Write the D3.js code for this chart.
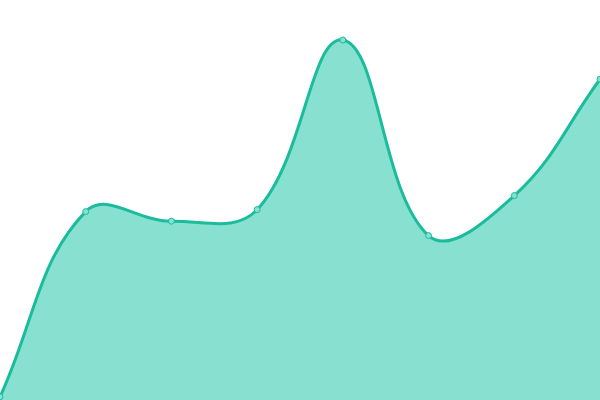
<!DOCTYPE html>
<html>
<head>
<meta charset="utf-8">
<script src="https://cdn.jsdelivr.net/npm/d3@7"></script>
<style>
html,body{margin:0;padding:0;background:#fff;}
svg{display:block;}
</style>
</head>
<body>
<svg id="chart" width="600" height="400"></svg>
<script>
const categories = [0, 1, 2, 3, 4, 5, 6, 7];
const values = [0.8, 47.1, 44.7, 47.6, 90.0, 41.1, 51.1, 80.2];

const width = 600, height = 400;
const svg = d3.select("#chart");
const x = d3.scaleLinear().domain([0, categories.length - 1]).range([0, width]);
const y = d3.scaleLinear().domain([0, 100]).range([height, 0]);

// Spline with tension 0.4 (distance-weighted control points), as a D3 curve factory
function TensionCurve(context) { this._context = context; }
TensionCurve.prototype = {
  areaStart() { this._line = 0; },
  areaEnd() { this._line = NaN; },
  lineStart() { this._pts = []; },
  point(px, py) { this._pts.push([+px, +py]); },
  lineEnd() {
    const p = this._pts, n = p.length, c = this._context, t = 0.4;
    if (n) {
      if (this._line) c.lineTo(p[0][0], p[0][1]); else c.moveTo(p[0][0], p[0][1]);
    }
    if (n === 2) c.lineTo(p[1][0], p[1][1]);
    else if (n > 2) {
      const cps = p.map((cur, i) => {
        const prev = p[Math.max(0, i - 1)], next = p[Math.min(n - 1, i + 1)];
        const d01 = Math.hypot(cur[0] - prev[0], cur[1] - prev[1]);
        const d12 = Math.hypot(next[0] - cur[0], next[1] - cur[1]);
        let s01 = d01 / (d01 + d12), s12 = d12 / (d01 + d12);
        if (isNaN(s01)) s01 = 0; if (isNaN(s12)) s12 = 0;
        const fa = t * s01, fb = t * s12;
        const cl = (v, lo, hi) => Math.max(lo, Math.min(hi, v));
        return {
          px: cl(cur[0] - fa * (next[0] - prev[0]), 0, width),
          py: cl(cur[1] - fa * (next[1] - prev[1]), 0, height),
          nx: cl(cur[0] + fb * (next[0] - prev[0]), 0, width),
          ny: cl(cur[1] + fb * (next[1] - prev[1]), 0, height)
        };
      });
      for (let i = 1; i < n; i++) {
        c.bezierCurveTo(cps[i - 1].nx, cps[i - 1].ny, cps[i].px, cps[i].py, p[i][0], p[i][1]);
      }
    }
    if (this._line || (this._line !== 0 && n === 1)) c.closePath();
    this._line = 1 - this._line;
  }
};
const curve = ctx => new TensionCurve(ctx);

const area = d3.area().x((d, i) => x(categories[i])).y0(height).y1(d => y(d)).curve(curve);
const line = d3.line().x((d, i) => x(categories[i])).y(d => y(d)).curve(curve);

svg.append("path").datum(values).attr("d", area).attr("fill", "#88e0d0");
svg.append("path").datum(values).attr("d", line).attr("fill", "none")
  .attr("stroke", "#1abc9c").attr("stroke-width", 3);
svg.selectAll("circle").data(values).enter().append("circle")
  .attr("cx", (d, i) => x(categories[i])).attr("cy", d => y(d)).attr("r", 3)
  .attr("fill", "#88e0d0").attr("stroke", "#1abc9c").attr("stroke-width", 1);
</script>
</body>
</html>
